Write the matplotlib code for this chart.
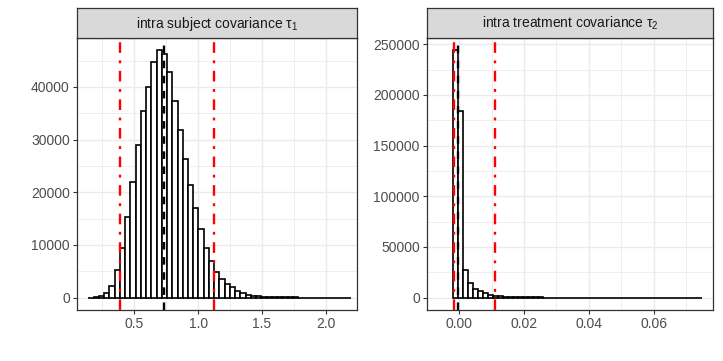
import numpy as np
import matplotlib
matplotlib.use("Agg")
import matplotlib.pyplot as plt

plt.rcParams["font.family"] = ["Liberation Sans", "DejaVu Sans"]
plt.rcParams["mathtext.fontset"] = "custom"
plt.rcParams["mathtext.rm"] = "Liberation Sans"
plt.rcParams["mathtext.it"] = "Liberation Sans:italic"
plt.rcParams["mathtext.default"] = "regular"

# -----------------------------
# data (50 bins each)
# -----------------------------
tau1_title = "intra subject covariance τ$_{1}$"
tau1_range = (0.1395, 2.196)
tau1_counts = [20, 100, 300, 800, 2200, 5180, 9400, 15240, 22000, 29030,
               35350, 39980, 44650, 46930, 46240, 42830, 37250, 31880, 26380, 21440,
               17020, 13030, 9430, 6890, 4870, 3540, 2660, 1960, 1330, 890,
               570, 400, 250, 180, 130, 95, 70, 50, 38, 28,
               20, 15, 11, 8, 6, 5, 4, 3, 2, 2]
tau1_center = 0.730
tau1_ci = [0.388, 1.122]
tau1_xticks = [0.5, 1.0, 1.5, 2.0]
tau1_xlabels = ["0.5", "1.0", "1.5", "2.0"]
tau1_yticks = [0, 10000, 20000, 30000, 40000]

tau2_title = "intra treatment covariance τ$_{2}$"
tau2_range = (-0.00176, 0.0750)
tau2_counts = [243900, 183700, 27600, 14100, 8900, 6200, 4250, 2950, 2100, 1500,
               1100, 800, 600, 450, 350, 270, 210, 160, 130, 100,
               80, 65, 50, 40, 32, 26, 21, 17, 14, 11,
               9, 7, 6, 5, 4, 3, 3, 2, 2, 2,
               1, 1, 1, 1, 1, 1, 1, 1, 1, 1]
tau2_center = -0.0003
tau2_ci = [-0.00168, 0.01106]
tau2_xticks = [0.00, 0.02, 0.04, 0.06]
tau2_xlabels = ["0.00", "0.02", "0.04", "0.06"]
tau2_yticks = [0, 50000, 100000, 150000, 200000, 250000]

W, H = 723, 361
fig = plt.figure(figsize=(W / 100, H / 100), dpi=100)


def px_axes(x0, y0, x1, y1):
    # pixel box (top-left origin) -> figure axes
    return fig.add_axes([x0 / W, 1 - y1 / H, (x1 - x0) / W, (y1 - y0) / H])


def panel(box, title, rng, counts, center, ci, xticks, xlabels, yticks, xlim):
    x0, y0, x1, y1 = box
    ax = px_axes(x0, y0, x1, y1)
    counts = np.asarray(counts, dtype=float)
    edges = np.linspace(rng[0], rng[1], len(counts) + 1)
    width = edges[1] - edges[0]

    ax.bar(edges[:-1], counts, width=width, align="edge", facecolor="white",
           edgecolor="black", linewidth=1.2, zorder=2)
    for v in ci:
        ax.axvline(v, color="#FF0000", linewidth=1.7,
                   linestyle=(0, (4.5, 3.2, 1.2, 3.2)), zorder=3)
    ax.axvline(center, color="black", linewidth=1.7,
               linestyle=(0, (3.2, 3.2)), zorder=3)

    ymax = counts.max()
    ax.set_ylim(-0.05 * ymax, 1.05 * ymax)
    ax.set_xlim(*xlim)

    ax.set_xticks(xticks)
    ax.set_xticklabels(xlabels)
    ax.set_yticks(yticks)
    ax.set_yticklabels([str(t) for t in yticks])
    xs = np.diff(xticks)[0]
    ax.set_xticks(np.arange(xticks[0] - xs / 2, xlim[1], xs), minor=True)
    ys = np.diff(yticks)[0]
    ax.set_yticks(np.arange(ys / 2, 1.05 * ymax, ys), minor=True)

    ax.grid(True, which="major", color="#EBEBEB", linewidth=1.0, zorder=0)
    ax.grid(True, which="minor", color="#EBEBEB", linewidth=0.55, zorder=0)
    ax.set_axisbelow(True)
    ax.tick_params(which="major", length=3, width=0.8, color="#333333",
                   labelsize=10, labelcolor="#4D4D4D", pad=2)
    ax.tick_params(which="minor", length=0)
    for s in ax.spines.values():
        s.set_color("#333333")
        s.set_linewidth(0.9)
    ax.set_facecolor("white")

    st = px_axes(x0, 8, x1, y0)
    st.set_facecolor("#D9D9D9")
    st.set_xticks([])
    st.set_yticks([])
    for s in st.spines.values():
        s.set_color("#333333")
        s.set_linewidth(0.9)
    st.text(0.5, 0.48, title, ha="center", va="center", fontsize=10,
            color="#1A1A1A", transform=st.transAxes)
    return ax


panel((76.7, 38, 357.3, 310), tau1_title, tau1_range, tau1_counts, tau1_center,
      tau1_ci, tau1_xticks, tau1_xlabels, tau1_yticks, (0.0486, 2.248))
panel((426.7, 38, 713.3, 310), tau2_title, tau2_range, tau2_counts, tau2_center,
      tau2_ci, tau2_xticks, tau2_xlabels, tau2_yticks, (-0.00588, 0.0784))

fig.savefig("out.png", dpi=100)
